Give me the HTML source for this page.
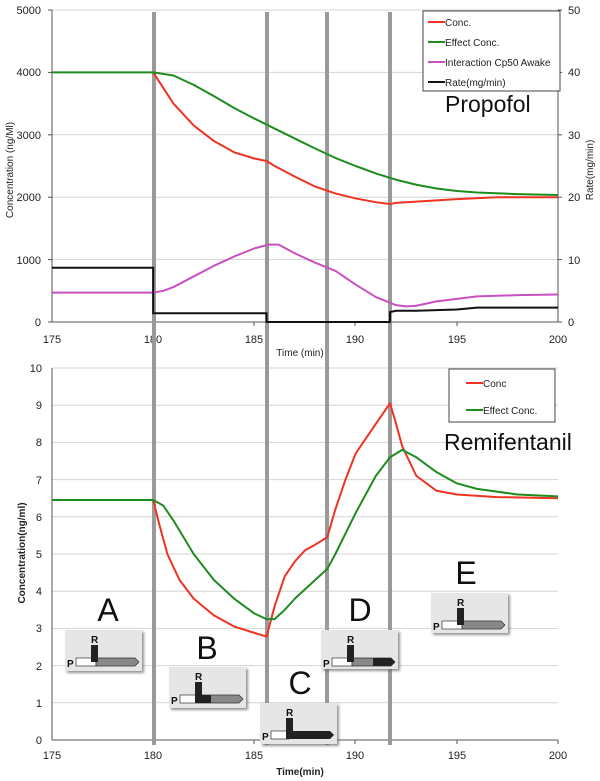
<!DOCTYPE html>
<html><head><meta charset="utf-8"><style>
html,body{margin:0;padding:0;background:#fff;}
svg{display:block;font-family:"Liberation Sans",sans-serif;}
</style></head><body>
<svg width="600" height="781" viewBox="0 0 600 781">
<defs>
<filter id="sh" x="-10%" y="-10%" width="130%" height="130%"><feDropShadow dx="2" dy="2" stdDeviation="1.2" flood-color="#666" flood-opacity="0.7"/></filter>
</defs>
<g stroke="#d4d4d4" stroke-width="1">
<line x1="52" x2="558" y1="10" y2="10"/><line x1="52" x2="558" y1="72.4" y2="72.4"/><line x1="52" x2="558" y1="134.8" y2="134.8"/><line x1="52" x2="558" y1="197.2" y2="197.2"/><line x1="52" x2="558" y1="259.6" y2="259.6"/>
</g>
<g stroke="#555" stroke-width="1">
<line x1="52" x2="52" y1="10" y2="322"/><line x1="52" x2="558" y1="322" y2="322"/><line x1="558" x2="558" y1="10" y2="322"/>
<line x1="48" x2="52" y1="10" y2="10"/><line x1="48" x2="52" y1="72.4" y2="72.4"/><line x1="48" x2="52" y1="134.8" y2="134.8"/><line x1="48" x2="52" y1="197.2" y2="197.2"/><line x1="48" x2="52" y1="259.6" y2="259.6"/><line x1="48" x2="52" y1="322" y2="322"/>
<line x1="558" x2="562" y1="10" y2="10"/><line x1="558" x2="562" y1="72.4" y2="72.4"/><line x1="558" x2="562" y1="134.8" y2="134.8"/><line x1="558" x2="562" y1="197.2" y2="197.2"/><line x1="558" x2="562" y1="259.6" y2="259.6"/><line x1="558" x2="562" y1="322" y2="322"/>
<line x1="153" x2="153" y1="322" y2="326"/><line x1="254" x2="254" y1="322" y2="326"/><line x1="355" x2="355" y1="322" y2="326"/><line x1="457" x2="457" y1="322" y2="326"/>
</g>
<g font-size="11" fill="#222" text-anchor="end">
<text x="41" y="14">5000</text><text x="41" y="76">4000</text><text x="41" y="139">3000</text><text x="41" y="201">2000</text><text x="41" y="264">1000</text><text x="41" y="326">0</text>
</g>
<g font-size="11" fill="#222">
<text x="568" y="14">50</text><text x="568" y="76">40</text><text x="568" y="139">30</text><text x="568" y="201">20</text><text x="568" y="264">10</text><text x="568" y="326">0</text>
</g>
<g font-size="11" fill="#222" text-anchor="middle">
<text x="52" y="343">175</text><text x="153" y="343">180</text><text x="254" y="343">185</text><text x="355" y="343">190</text><text x="457" y="343">195</text><text x="558" y="343">200</text>
<text x="300" y="356" font-size="10">Time (min)</text>
</g>
<text transform="translate(13,170) rotate(-90)" font-size="10" text-anchor="middle" fill="#222">Concentration (ng/Ml)</text>
<text transform="translate(593,170) rotate(-90)" font-size="10" text-anchor="middle" fill="#222">Rate(mg/min)</text>

<g stroke="#d4d4d4" stroke-width="1">
<line x1="52" x2="558" y1="368" y2="368"/><line x1="52" x2="558" y1="405.2" y2="405.2"/><line x1="52" x2="558" y1="442.4" y2="442.4"/><line x1="52" x2="558" y1="479.6" y2="479.6"/><line x1="52" x2="558" y1="516.8" y2="516.8"/><line x1="52" x2="558" y1="554" y2="554"/><line x1="52" x2="558" y1="591.2" y2="591.2"/><line x1="52" x2="558" y1="628.4" y2="628.4"/><line x1="52" x2="558" y1="665.6" y2="665.6"/><line x1="52" x2="558" y1="702.8" y2="702.8"/>
</g>
<g stroke="#555" stroke-width="1">
<line x1="52" x2="52" y1="368" y2="740"/><line x1="52" x2="558" y1="740" y2="740"/>
<line x1="153" x2="153" y1="740" y2="744"/><line x1="254" x2="254" y1="740" y2="744"/><line x1="355" x2="355" y1="740" y2="744"/><line x1="457" x2="457" y1="740" y2="744"/><line x1="558" x2="558" y1="740" y2="744"/>
</g>
<g font-size="11" fill="#222" text-anchor="end">
<text x="42" y="372">10</text><text x="42" y="409">9</text><text x="42" y="446">8</text><text x="42" y="484">7</text><text x="42" y="521">6</text><text x="42" y="558">5</text><text x="42" y="595">4</text><text x="42" y="632">3</text><text x="42" y="670">2</text><text x="42" y="707">1</text><text x="42" y="744">0</text>
</g>
<g font-size="11" fill="#222" text-anchor="middle">
<text x="52" y="759">175</text><text x="153" y="759">180</text><text x="254" y="759">185</text><text x="355" y="759">190</text><text x="457" y="759">195</text><text x="558" y="759">200</text>
<text x="300" y="775" font-size="10" font-weight="bold">Time(min)</text>
</g>
<text transform="translate(25,553) rotate(-90)" font-size="10" font-weight="bold" text-anchor="middle" fill="#222">Concentration(ng/ml)</text>

<g stroke="#9a9a9a" stroke-width="4">
<line x1="154" x2="154" y1="12" y2="745"/><line x1="267" x2="267" y1="12" y2="745"/><line x1="327" x2="327" y1="12" y2="745"/><line x1="390" x2="390" y1="12" y2="745"/>
</g>

<g transform="translate(52,322) scale(20.24,-0.0624) translate(-175,0)" fill="none" stroke-width="2" stroke-linejoin="round">
<polyline vector-effect="non-scaling-stroke" stroke="#c850c0" points="175,470 180,470 180.5,500 181,560 182,730 183,900 184,1050 185,1180 185.7,1240 186.2,1240 187,1100 188,950 189,820 190,600 191,400 192,270 192.5,250 193,260 194,330 195,370 196,410 198,430 200,440"/>
<polyline vector-effect="non-scaling-stroke" stroke="#ee3322" points="180,4000 181,3500 182,3150 183,2900 184,2720 185,2620 185.6,2580 186,2500 187,2330 188,2170 189,2060 190,1980 191,1920 191.7,1890 192,1910 193,1930 195,1970 197,2000 200,2000"/>
<polyline vector-effect="non-scaling-stroke" stroke="#1e8c1e" points="175,4000 180,4000 181,3950 182,3800 183,3620 184,3430 185,3260 186,3100 187,2940 188,2780 189,2630 190,2500 191,2380 192,2280 193,2200 194,2140 195,2100 196,2075 198,2050 200,2035"/>
</g>
<g transform="translate(52,322) scale(20.24,-6.24) translate(-175,0)" fill="none" stroke-width="2">
<polyline vector-effect="non-scaling-stroke" stroke="#111" points="175,8.7 180,8.7 180,1.4 185.6,1.4 185.6,0 191.7,0 191.7,1.6 192,1.8 193,1.8 194,1.9 195,2.0 196,2.3 200,2.3"/>
</g>
<rect x="423" y="11" width="137" height="80" fill="#fff" stroke="#444" stroke-width="1"/>
<g stroke-width="2"><line x1="428" x2="445" y1="22" y2="22" stroke="#ee3322"/><line x1="428" x2="445" y1="42" y2="42" stroke="#1e8c1e"/><line x1="428" x2="445" y1="62" y2="62" stroke="#c850c0"/><line x1="428" x2="445" y1="82" y2="82" stroke="#111"/></g>
<g font-size="10" fill="#222"><text x="445" y="26">Conc.</text><text x="445" y="46">Effect Conc.</text><text x="445" y="66">Interaction Cp50 Awake</text><text x="445" y="86">Rate(mg/min)</text></g>
<text x="445" y="112" font-size="23" fill="#111">Propofol</text>

<g transform="translate(52,740) scale(20.24,-37.2) translate(-175,0)" fill="none" stroke-width="2" stroke-linejoin="round">
<polyline vector-effect="non-scaling-stroke" stroke="#ee3322" points="175,6.45 180,6.45 180.3,5.8 180.7,5 181.3,4.3 182,3.8 183,3.35 184,3.05 185,2.88 185.6,2.78 186,3.6 186.5,4.4 187,4.8 187.5,5.1 188,5.25 188.6,5.45 189,6.2 189.5,7.0 190,7.7 191,8.5 191.7,9.05 192,8.5 192.3,7.9 193,7.1 194,6.7 195,6.6 197,6.53 200,6.5"/>
<polyline vector-effect="non-scaling-stroke" stroke="#1e8c1e" points="175,6.45 180,6.45 180.5,6.3 181,5.9 182,5.0 183,4.3 184,3.8 185,3.4 185.6,3.25 186,3.25 186.5,3.5 187,3.8 188,4.3 188.6,4.6 189,5.0 190,6.1 191,7.1 191.7,7.6 192.3,7.8 193,7.6 194,7.2 195,6.9 196,6.75 198,6.6 200,6.55"/>
</g>
<rect x="449" y="369" width="106" height="53" fill="#fff" stroke="#444"/>
<line x1="466" x2="483" y1="383" y2="383" stroke="#ee3322" stroke-width="2"/>
<line x1="466" x2="483" y1="410" y2="410" stroke="#1e8c1e" stroke-width="2"/>
<g font-size="10" fill="#222"><text x="483" y="387">Conc</text><text x="483" y="414">Effect Conc.</text></g>
<text x="444" y="450" font-size="23" fill="#111">Remifentanil</text>

<g font-size="32" fill="#111" text-anchor="middle">
<text x="108" y="621">A</text><text x="207" y="659">B</text><text x="300" y="694">C</text><text x="360" y="621">D</text><text x="466" y="584">E</text>
</g>

<g transform="translate(65,630)">
<rect width="77" height="41" fill="#e6e6e6" filter="url(#sh)"/>
<text x="26" y="13" font-size="10" font-weight="bold" fill="#111">R</text>
<rect x="11" y="28" width="20" height="8" fill="#fff" stroke="#333" stroke-width="0.7"/>
<polygon points="31,28 70,28 74,32 70,36 31,36" fill="#888" stroke="#333" stroke-width="0.7"/>
<rect x="26" y="15" width="7" height="17" fill="#222"/>
<text x="2" y="37" font-size="10" font-weight="bold" fill="#111">P</text>
</g>
<g transform="translate(169,667)">
<rect width="77" height="41" fill="#e6e6e6" filter="url(#sh)"/>
<text x="26" y="13" font-size="10" font-weight="bold" fill="#111">R</text>
<rect x="11" y="28" width="18" height="8" fill="#fff" stroke="#333" stroke-width="0.7"/>
<polygon points="29,28 70,28 74,32 70,36 29,36" fill="#888" stroke="#333" stroke-width="0.7"/>
<rect x="26" y="15" width="7" height="21" fill="#222"/>
<rect x="26" y="28" width="16" height="8" fill="#222"/>
<text x="2" y="37" font-size="10" font-weight="bold" fill="#111">P</text>
</g>
<g transform="translate(260,703)">
<rect width="77" height="41" fill="#e6e6e6" filter="url(#sh)"/>
<text x="26" y="13" font-size="10" font-weight="bold" fill="#111">R</text>
<rect x="11" y="28" width="18" height="8" fill="#fff" stroke="#333" stroke-width="0.7"/>
<polygon points="29,28 70,28 74,32 70,36 29,36" fill="#222"/>
<rect x="26" y="15" width="7" height="21" fill="#222"/>
<text x="2" y="37" font-size="10" font-weight="bold" fill="#111">P</text>
</g>
<g transform="translate(321,630)">
<rect width="77" height="39" fill="#e6e6e6" filter="url(#sh)"/>
<text x="26" y="13" font-size="10" font-weight="bold" fill="#111">R</text>
<rect x="11" y="28" width="20" height="8" fill="#fff" stroke="#333" stroke-width="0.7"/>
<polygon points="31,28 70,28 74,32 70,36 31,36" fill="#888" stroke="#333" stroke-width="0.7"/>
<polygon points="52,28 70,28 74,32 70,36 52,36" fill="#222"/>
<rect x="26" y="15" width="7" height="17" fill="#222"/>
<text x="2" y="37" font-size="10" font-weight="bold" fill="#111">P</text>
</g>
<g transform="translate(431,593)">
<rect width="77" height="40" fill="#e6e6e6" filter="url(#sh)"/>
<text x="26" y="13" font-size="10" font-weight="bold" fill="#111">R</text>
<rect x="11" y="28" width="20" height="8" fill="#fff" stroke="#333" stroke-width="0.7"/>
<polygon points="31,28 70,28 74,32 70,36 31,36" fill="#888" stroke="#333" stroke-width="0.7"/>
<rect x="26" y="15" width="7" height="17" fill="#222"/>
<text x="2" y="37" font-size="10" font-weight="bold" fill="#111">P</text>
</g>
</svg>
</body></html>
